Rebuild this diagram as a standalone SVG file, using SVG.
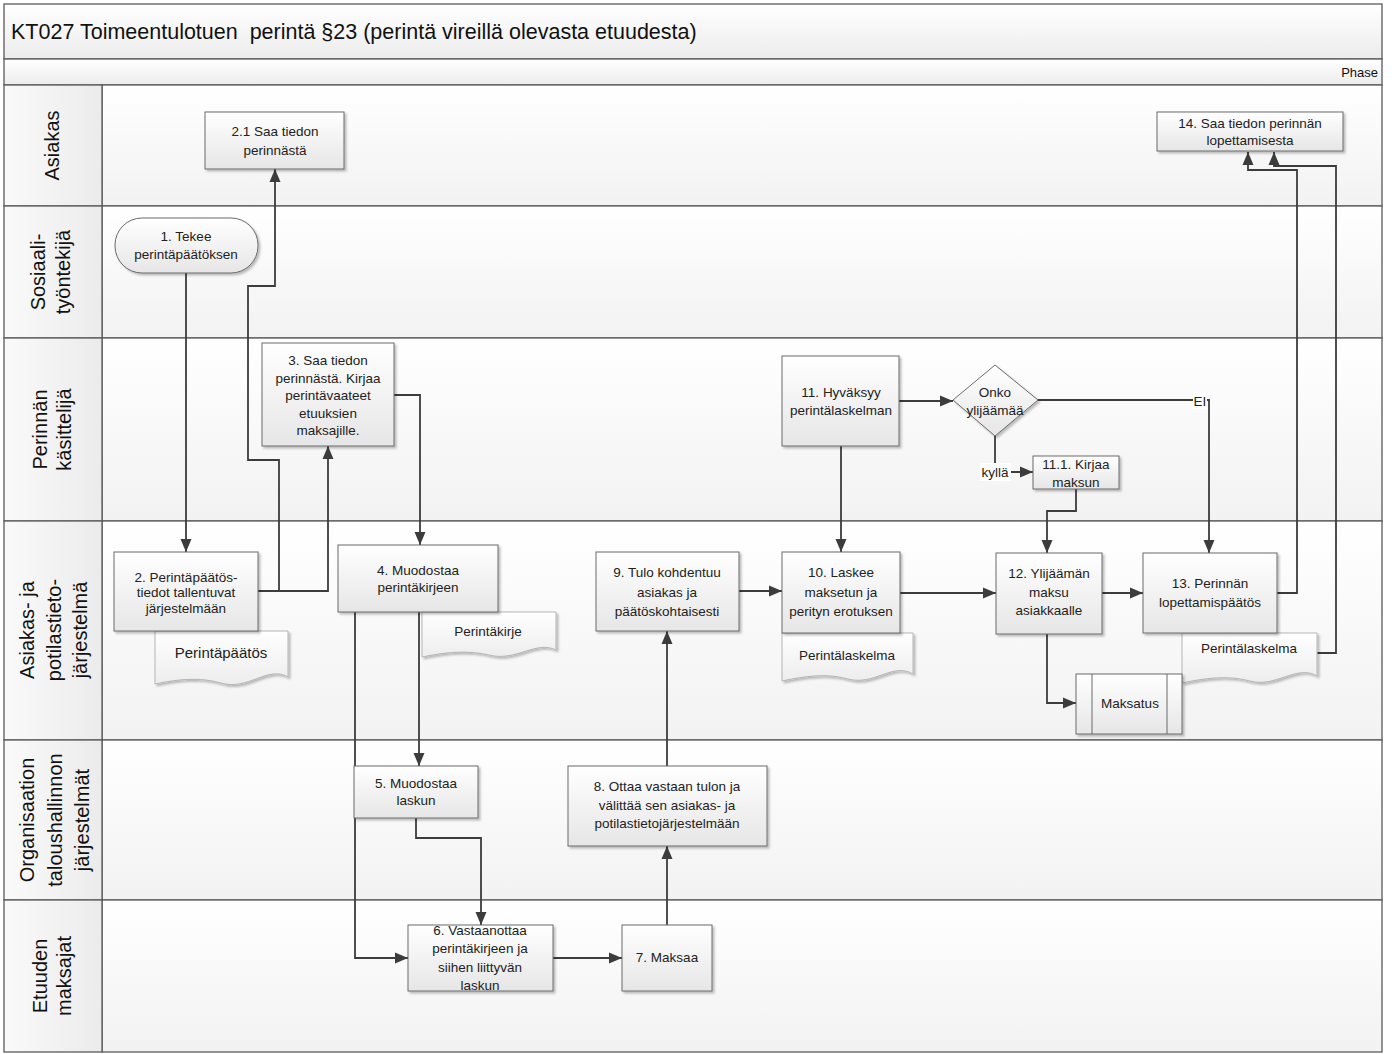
<svg xmlns="http://www.w3.org/2000/svg" width="1392" height="1054" viewBox="0 0 1392 1054">
<defs>
<linearGradient id="gBox" x1="0" y1="0" x2="0" y2="1"><stop offset="0" stop-color="#ffffff"/><stop offset="1" stop-color="#e6e6e6"/></linearGradient>
<linearGradient id="gLane" x1="0" y1="0" x2="0" y2="1"><stop offset="0" stop-color="#ffffff"/><stop offset="1" stop-color="#f2f2f2"/></linearGradient>
<linearGradient id="gHead" x1="0" y1="0" x2="1" y2="0"><stop offset="0" stop-color="#fafafa"/><stop offset="1" stop-color="#ebebeb"/></linearGradient>
<linearGradient id="gTitle" x1="0" y1="0" x2="0" y2="1"><stop offset="0" stop-color="#ffffff"/><stop offset="1" stop-color="#ececec"/></linearGradient>
<linearGradient id="gDoc" x1="0" y1="0" x2="0" y2="1"><stop offset="0" stop-color="#ffffff"/><stop offset="1" stop-color="#ededed"/></linearGradient>
<filter id="sh" x="-10%" y="-10%" width="130%" height="130%"><feDropShadow dx="2" dy="2" stdDeviation="1" flood-color="#000" flood-opacity="0.25"/></filter>
<marker id="arr" viewBox="0 0 13 11" refX="13" refY="5.5" markerWidth="13" markerHeight="11" markerUnits="userSpaceOnUse" orient="auto" overflow="visible">
<path d="M0,0 L13,5.5 L0,11 Z" fill="#3c3c3c"/>
</marker>
</defs>
<style>
.lane{fill:url(#gLane);stroke:#5a5a5a;stroke-width:1.3}
.head{fill:url(#gHead);stroke:#5a5a5a;stroke-width:1.3}
.box{fill:url(#gBox);stroke:#6a6a6a;stroke-width:1;filter:url(#sh)}
.doc{fill:url(#gDoc);stroke:#b5b5b5;stroke-width:1;filter:url(#sh)}
.t{font-family:"Liberation Sans",Arial,sans-serif;font-size:13.5px;fill:#222;text-anchor:middle}
.tl{font-family:"Liberation Sans",Arial,sans-serif;font-size:20px;fill:#111;text-anchor:middle}
.c{fill:none;stroke:#3c3c3c;stroke-width:1.8;marker-end:url(#arr)}
</style>

<g id="frame">
<rect x="4" y="4" width="1378" height="55" fill="url(#gTitle)" stroke="#5a5a5a" stroke-width="1.3"/>
<text x="11" y="39" style="font-family:'Liberation Sans',Arial,sans-serif;font-size:21.5px;fill:#111;white-space:pre" xml:space="preserve">KT027 Toimeentulotuen  perintä §23 (perintä vireillä olevasta etuudesta)</text>
<rect x="4" y="59" width="1378" height="26" fill="url(#gTitle)" stroke="#5a5a5a" stroke-width="1.3"/>
<text x="1378" y="77" style="font-family:'Liberation Sans',Arial,sans-serif;font-size:13px;fill:#111;text-anchor:end">Phase</text>
</g>

<g id="lanes">
<rect class="lane" x="102" y="85" width="1280" height="121"/>
<rect class="lane" x="102" y="206" width="1280" height="132"/>
<rect class="lane" x="102" y="338" width="1280" height="183"/>
<rect class="lane" x="102" y="521" width="1280" height="219"/>
<rect class="lane" x="102" y="740" width="1280" height="160"/>
<rect class="lane" x="102" y="900" width="1280" height="152"/>
<rect class="head" x="4" y="85" width="98" height="121"/>
<rect class="head" x="4" y="206" width="98" height="132"/>
<rect class="head" x="4" y="338" width="98" height="183"/>
<rect class="head" x="4" y="521" width="98" height="219"/>
<rect class="head" x="4" y="740" width="98" height="160"/>
<rect class="head" x="4" y="900" width="98" height="152"/>
<text class="tl" transform="translate(0,145.5) rotate(-90)"><tspan x="0" y="59">Asiakas</tspan></text>
<text class="tl" transform="translate(0,272) rotate(-90)"><tspan x="0" y="45">Sosiaali-</tspan><tspan x="0" y="70">työntekijä</tspan></text>
<text class="tl" transform="translate(0,429.5) rotate(-90)"><tspan x="0" y="47">Perinnän</tspan><tspan x="0" y="71">käsittelijä</tspan></text>
<text class="tl" transform="translate(0,630) rotate(-90)"><tspan x="0" y="34">Asiakas- ja</tspan><tspan x="0" y="61">potilastieto-</tspan><tspan x="0" y="87">järjestelmä</tspan></text>
<text class="tl" transform="translate(0,820) rotate(-90)"><tspan x="0" y="34">Organisaation</tspan><tspan x="0" y="62">taloushallinnon</tspan><tspan x="0" y="89">järjestelmät</tspan></text>
<text class="tl" transform="translate(0,976) rotate(-90)"><tspan x="0" y="47">Etuuden</tspan><tspan x="0" y="71">maksajat</tspan></text>
</g>

<g id="connectors">
<polyline class="c" points="186,273 186,552"/>
<polyline class="c" points="258,591 279,591 279,460 248,460 248,286 275,286 275,169"/>
<polyline class="c" points="258,591 328,591 328,446"/>
<polyline class="c" points="394,395 420,395 420,545"/>
<polyline class="c" points="419,612 419,766"/>
<polyline class="c" points="355,612 355,958 408,958"/>
<polyline class="c" points="416,818 416,838 481,838 481,925"/>
<polyline class="c" points="553,958 622,958"/>
<polyline class="c" points="667,925 667,846"/>
<polyline class="c" points="667,766 667,631"/>
<polyline class="c" points="739,591 782,591"/>
<polyline class="c" points="841,446 841,552"/>
<polyline class="c" points="899,401 953,401"/>
<polyline class="c" points="1038,400 1209,400 1209,553"/>
<polyline class="c" points="995,436 995,472 1033,472"/>
<polyline class="c" points="1076,489 1076,511 1047,511 1047,553"/>
<polyline class="c" points="900,593 996,593"/>
<polyline class="c" points="1102,593 1143,593"/>
<polyline class="c" points="1047,634 1047,703 1076,703"/>
<polyline class="c" points="1277,593 1297,593 1297,170 1248,170 1248,152"/>
<polyline class="c" points="1317,653 1336,653 1336,166 1274,166 1274,152"/>
<rect x="1193" y="392" width="14" height="17" fill="#fff"/>
<text class="t" x="1200" y="406">EI</text>
<rect x="980" y="463" width="31" height="18" fill="#fff"/>
<text class="t" x="995" y="477">kyllä</text>
</g>

<g id="n1"><rect class="box" x="115" y="218" width="143" height="55" rx="27" ry="27"/>
<text class="t"><tspan x="186" y="241">1. Tekee</tspan><tspan x="186" y="259">perintäpäätöksen</tspan></text></g>

<g id="n2_1"><rect class="box" x="205" y="112" width="139" height="57"/>
<text class="t"><tspan x="275" y="136">2.1 Saa tiedon</tspan><tspan x="275" y="155">perinnästä</tspan></text></g>

<g id="d_perintapaatos"><path class="doc" d="M155,631 H288 V677 C268,665 248,691 221,683 C200,677 178,679 155,684 Z"/>
<text class="t" x="221" y="658" style="font-size:15px">Perintäpäätös</text></g>

<g id="n2"><rect class="box" x="114" y="552" width="144" height="79"/>
<text class="t"><tspan x="186" y="582">2. Perintäpäätös-</tspan><tspan x="186" y="597">tiedot tallentuvat</tspan><tspan x="186" y="613">järjestelmään</tspan></text></g>

<g id="n3"><rect class="box" x="262" y="343" width="132" height="103"/>
<text class="t"><tspan x="328" y="365">3. Saa tiedon</tspan><tspan x="328" y="383">perinnästä. Kirjaa</tspan><tspan x="328" y="400">perintävaateet</tspan><tspan x="328" y="418">etuuksien</tspan><tspan x="328" y="435">maksajille.</tspan></text></g>

<g id="d_perintakirje"><path class="doc" d="M422,612 H556 V650 C536,640 516,662 489,655 C468,650 446,652 422,657 Z"/>
<text class="t" x="488" y="636">Perintäkirje</text></g>

<g id="n4"><rect class="box" x="338" y="545" width="160" height="67"/>
<text class="t"><tspan x="418" y="575">4. Muodostaa</tspan><tspan x="418" y="592">perintäkirjeen</tspan></text></g>

<g id="n5"><rect class="box" x="354" y="766" width="124" height="52"/>
<text class="t"><tspan x="416" y="788">5. Muodostaa</tspan><tspan x="416" y="805">laskun</tspan></text></g>

<g id="n6"><rect class="box" x="408" y="925" width="145" height="66"/>
<text class="t"><tspan x="480" y="935">6. Vastaanottaa</tspan><tspan x="480" y="953">perintäkirjeen ja</tspan><tspan x="480" y="972">siihen liittyvän</tspan><tspan x="480" y="990">laskun</tspan></text></g>

<g id="n7"><rect class="box" x="622" y="925" width="90" height="66"/>
<text class="t" x="667" y="962">7. Maksaa</text></g>

<g id="n8"><rect class="box" x="568" y="766" width="199" height="80"/>
<text class="t"><tspan x="667" y="791">8. Ottaa vastaan tulon ja</tspan><tspan x="667" y="810">välittää sen asiakas- ja</tspan><tspan x="667" y="828">potilastietojärjestelmään</tspan></text></g>

<g id="n9"><rect class="box" x="596" y="552" width="143" height="79"/>
<text class="t"><tspan x="667" y="577">9. Tulo kohdentuu</tspan><tspan x="667" y="597">asiakas ja</tspan><tspan x="667" y="616">päätöskohtaisesti</tspan></text></g>

<g id="d_perintalaskelma1"><path class="doc" d="M782,633 H913 V674 C893,662 874,686 848,679 C827,673 805,676 782,681 Z"/>
<text class="t" x="847" y="660">Perintälaskelma</text></g>

<g id="n10"><rect class="box" x="782" y="552" width="118" height="81"/>
<text class="t"><tspan x="841" y="577">10. Laskee</tspan><tspan x="841" y="597">maksetun ja</tspan><tspan x="841" y="616">perityn erotuksen</tspan></text></g>

<g id="n11"><rect class="box" x="782" y="356" width="117" height="90"/>
<text class="t"><tspan x="841" y="397">11. Hyväksyy</tspan><tspan x="841" y="415">perintälaskelman</tspan></text></g>

<g id="dec"><polygon class="box" points="995,365 1038,400 995,436 953,400"/>
<text class="t"><tspan x="995" y="397">Onko</tspan><tspan x="995" y="415">ylijäämää</tspan></text></g>

<g id="n11_1"><rect class="box" x="1033" y="456" width="86" height="33"/>
<text class="t"><tspan x="1076" y="469">11.1. Kirjaa</tspan><tspan x="1076" y="487">maksun</tspan></text></g>

<g id="n12"><rect class="box" x="996" y="553" width="106" height="81"/>
<text class="t"><tspan x="1049" y="578">12. Ylijäämän</tspan><tspan x="1049" y="597">maksu</tspan><tspan x="1049" y="615">asiakkaalle</tspan></text></g>

<g id="d_perintalaskelma2"><path class="doc" d="M1182,633 H1317 V676 C1297,664 1276,688 1250,681 C1228,675 1205,678 1182,683 Z"/>
<text class="t" x="1249" y="653">Perintälaskelma</text></g>

<g id="n13"><rect class="box" x="1143" y="553" width="134" height="80"/>
<text class="t"><tspan x="1210" y="588">13. Perinnän</tspan><tspan x="1210" y="607">lopettamispäätös</tspan></text></g>

<g id="maksatus"><rect class="box" x="1076" y="674" width="106" height="60"/>
<line x1="1092" y1="674" x2="1092" y2="734" stroke="#6a6a6a" stroke-width="1"/>
<line x1="1167" y1="674" x2="1167" y2="734" stroke="#6a6a6a" stroke-width="1"/>
<text class="t" x="1130" y="708">Maksatus</text></g>

<g id="n14"><rect class="box" x="1157" y="112" width="186" height="39"/>
<text class="t"><tspan x="1250" y="128">14. Saa tiedon perinnän</tspan><tspan x="1250" y="145">lopettamisesta</tspan></text></g>
</svg>
